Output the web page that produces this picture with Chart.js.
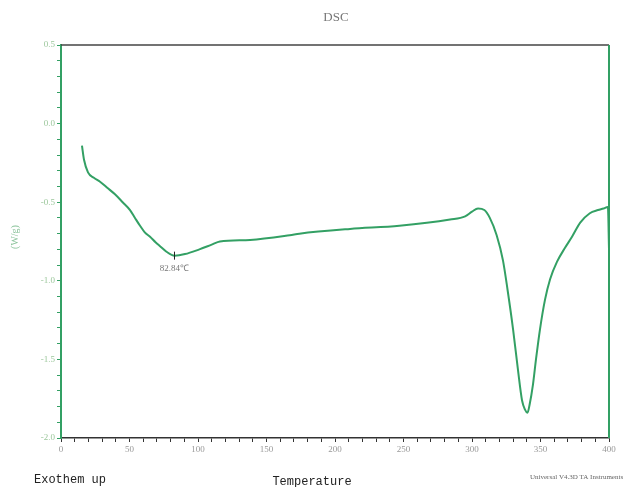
<!DOCTYPE html>
<html>
<head>
<meta charset="utf-8">
<script src="https://cdn.jsdelivr.net/npm/chart.js@4"></script>
<style>
  html, body { margin: 0; padding: 0; background: #fff; }
  #wrap { width: 640px; height: 487px; position: relative; }
</style>
</head>
<body>
<div id="wrap"><canvas id="dsc-chart" width="640" height="487"></canvas></div>
<script>
// DSC curve (temperature in C, heat flow in W/g)
const temps = [15.3, 16.8, 19.7, 24, 28.5, 34, 39.4, 45, 50.4, 54, 57.7, 61, 65, 69, 72.3, 77, 82.84,
  90.5, 101, 110, 116, 138, 167, 174, 211, 247, 284, 295, 300, 304.4, 309, 313, 318, 322.6, 326,
  330, 333.6, 336.5, 338.7, 340.5, 342, 344.5, 346.7, 349.6, 353.3, 357, 362, 367.9, 373, 379, 386,
  392, 396, 399.2, 400];
const heatFlow = [-0.14, -0.23, -0.31, -0.345, -0.37, -0.41, -0.45, -0.50, -0.55, -0.60, -0.65, -0.69,
  -0.72, -0.755, -0.78, -0.815, -0.84, -0.83, -0.80, -0.77, -0.75, -0.74, -0.71, -0.70, -0.67, -0.65,
  -0.61, -0.59, -0.56, -0.54, -0.55, -0.60, -0.71, -0.87, -1.06, -1.31, -1.57, -1.76, -1.82, -1.84,
  -1.79, -1.66, -1.50, -1.31, -1.12, -0.99, -0.88, -0.79, -0.72, -0.63, -0.57, -0.55, -0.54, -0.53, -0.80];

const peakT = 82.84;
const peakLabel = "82.84℃";
const xMajor = 50, yMajor = 0.5;

const green = "#33a064";

const extraText = {
  id: "extraText",
  afterDraw(chart) {
    const { ctx, chartArea: a, scales } = chart;
    ctx.save();
    // top frame (dark) and right frame (green)
    ctx.lineWidth = 1.5;
    ctx.strokeStyle = "#444";
    ctx.beginPath(); ctx.moveTo(a.left, a.top); ctx.lineTo(a.right, a.top); ctx.stroke();
    ctx.strokeStyle = green;
    ctx.lineWidth = 2;
    ctx.beginPath(); ctx.moveTo(a.right, a.top); ctx.lineTo(a.right, a.bottom); ctx.stroke();

    // peak marker
    const px = scales.x.getPixelForValue(peakT);
    const py = scales.y.getPixelForValue(heatFlow[temps.indexOf(peakT)]);
    ctx.strokeStyle = "#222";
    ctx.lineWidth = 1;
    ctx.beginPath(); ctx.moveTo(px, py - 4); ctx.lineTo(px, py + 4); ctx.stroke();
    ctx.fillStyle = "#777";
    ctx.font = "9px 'Liberation Serif'";
    ctx.textAlign = "center";
    ctx.textBaseline = "top";
    ctx.fillText(peakLabel, px, py + 8);

    // title
    ctx.fillStyle = "#777";
    ctx.font = "13px 'Liberation Serif'";
    ctx.textBaseline = "middle";
    ctx.fillText("DSC", 336, 18);

    // y title
    ctx.save();
    ctx.translate(15, 237);
    ctx.rotate(-Math.PI / 2);
    ctx.fillStyle = "#8cc49c";
    ctx.font = "10px 'Liberation Serif'";
    ctx.fillText("(W/g)", 0, 0);
    ctx.restore();

    // bottom texts
    ctx.fillStyle = "#222";
    ctx.font = "12px 'Liberation Mono'";
    ctx.textAlign = "left";
    ctx.fillText("Exothem up", 34, 480);
    ctx.textAlign = "center";
    ctx.fillText("Temperature", 312, 482);
    ctx.fillStyle = "#666";
    ctx.font = "7px 'Liberation Serif'";
    ctx.textAlign = "left";
    ctx.fillText("Universal V4.3D TA Instruments", 530, 477);
    ctx.restore();
  }
};

new Chart(document.getElementById("dsc-chart"), {
  type: "line",
  data: {
    datasets: [{
      data: temps.map((t, i) => ({ x: t, y: heatFlow[i] })),
      borderColor: green,
      borderWidth: 2,
      pointRadius: 0,
      cubicInterpolationMode: "monotone",
      fill: false
    }]
  },
  options: {
    responsive: false,
    animation: false,
    layout: { padding: { top: 45, right: 31, left: 0, bottom: 0 } },
    plugins: { legend: { display: false }, tooltip: { enabled: false }, title: { display: false } },
    scales: {
      x: {
        type: "linear",
        min: 0, max: 400,
        afterFit: s => { s.height = 49; },
        border: { color: "#333", width: 1.5 },
        grid: { drawOnChartArea: false, tickLength: 4, color: "#333" },
        ticks: {
          stepSize: 10, autoSkip: false, maxRotation: 0, padding: 2,
          color: "#999", font: { family: "Liberation Serif", size: 9 },
          callback: v => (Math.abs(v % xMajor) < 1e-6 ? String(v) : "")
        }
      },
      y: {
        min: -2, max: 0.5,
        afterFit: s => { s.width = 61; },
        border: { color: green, width: 2 },
        grid: { drawOnChartArea: false, tickLength: 4, color: green },
        ticks: {
          stepSize: 0.1, autoSkip: false, padding: 2,
          color: "#9cc79c", font: { family: "Liberation Serif", size: 9 },
          callback: v => {
            const k = v / yMajor;
            return Math.abs(k - Math.round(k)) < 1e-6 ? v.toFixed(1) : "";
          }
        }
      }
    }
  },
  plugins: [extraText]
});
</script>
</body>
</html>
